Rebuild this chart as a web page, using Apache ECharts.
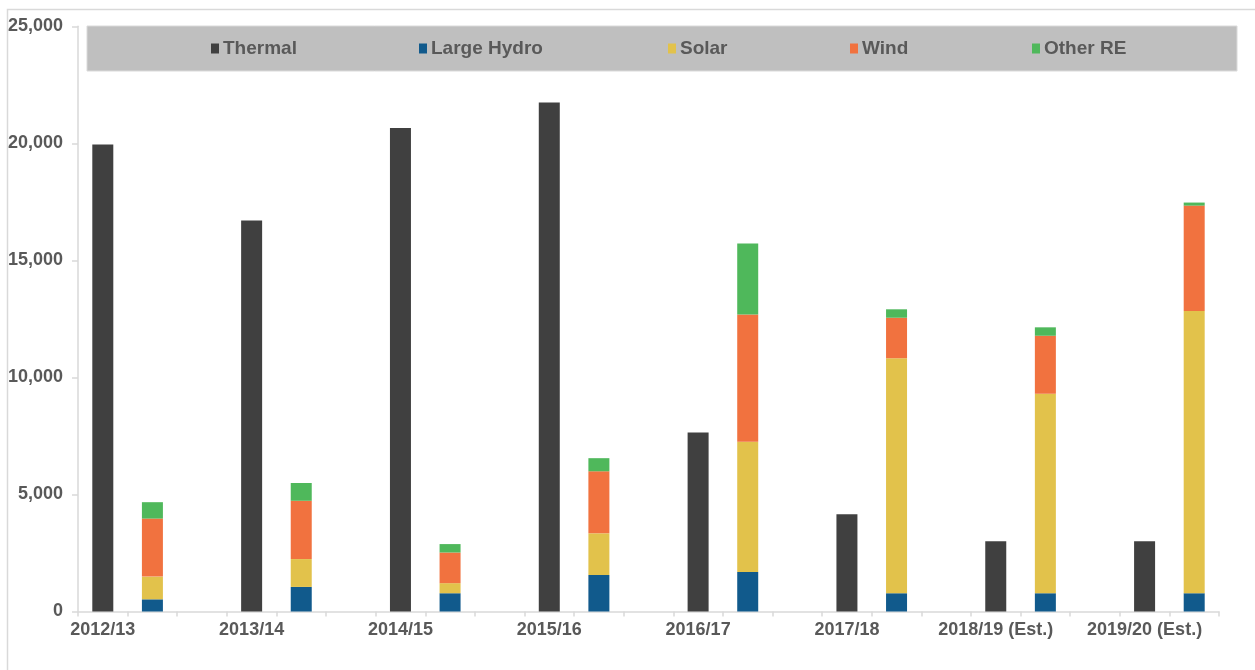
<!DOCTYPE html>
<html>
<head>
<meta charset="utf-8">
<script src="https://cdn.jsdelivr.net/npm/echarts@6/dist/echarts.min.js"></script>
<style>
  html, body { margin: 0; padding: 0; background: #fff; }
  #chart { width: 1255px; height: 670px; }
</style>
</head>
<body>
<div id="chart"></div>
<script>
// One value per year; each year takes three slots on the axis:
// thermal bar, renewables stack, then an empty gap.
const years = ['2012/13', '2013/14', '2014/15', '2015/16', '2016/17', '2017/18', '2018/19 (Est.)', '2019/20 (Est.)'];
const thermal = [19950, 16700, 20650, 21750, 7650, 4150, 3000, 3000];
const largeHydro = [520, 1050, 780, 1560, 1690, 780, 780, 780];
const solar = [970, 1190, 430, 1780, 5560, 10040, 8520, 12060];
const wind = [2480, 2490, 1310, 2650, 5440, 1730, 2480, 4500];
const otherRE = [700, 760, 360, 560, 3030, 360, 360, 130];
const yTicks = [0, 5000, 10000, 15000, 20000, 25000];

const SLOTS = years.length * 3 - 1; // the last gap is not drawn
const FONT = "'Liberation Sans', Arial, sans-serif";
const GREY = '#595959';

function slotLabels() {
  return Array.from({ length: SLOTS }, (_, i) => (i % 3 === 0 ? years[i / 3] : ''));
}
// puts year values at slot 3*i + offset, '-' elsewhere
function toSlots(values, offset) {
  const out = Array.from({ length: SLOTS }, () => '-');
  values.forEach((v, i) => { out[i * 3 + offset] = v; });
  return out;
}

const seriesDefs = [
  { name: 'Thermal', color: '#404040', values: thermal, offset: 0 },
  { name: 'Large Hydro', color: '#115A8C', values: largeHydro, offset: 1 },
  { name: 'Solar', color: '#E2C24B', values: solar, offset: 1 },
  { name: 'Wind', color: '#F1723F', values: wind, offset: 1 },
  { name: 'Other RE', color: '#4FB85B', values: otherRE, offset: 1 },
];
const legendLeft = [206, 414, 663, 845, 1027];

const legends = seriesDefs.map((s, i) => ({
  data: [s.name],
  left: legendLeft[i],
  top: 34,
  itemWidth: 8,
  itemHeight: 10,
  selectedMode: false,
  icon: 'rect',
  textStyle: { color: GREY, fontSize: 19, fontWeight: 'bold', fontFamily: FONT, padding: [0, 0, 0, -1] },
}));

const chart = echarts.init(document.getElementById('chart'), null, { renderer: 'canvas' });
chart.setOption({
  animation: false,
  backgroundColor: '#fff',
  textStyle: { fontFamily: FONT },
  graphic: [
    { type: 'rect', z: -10, silent: true,
      shape: { x: 7.5, y: 9.5, width: 1300, height: 700 },
      style: { fill: 'none', stroke: '#D9D9D9', lineWidth: 1.5 } },
    { type: 'rect', z: -5, silent: true,
      shape: { x: 87, y: 26, width: 1150, height: 45 },
      style: { fill: '#BFBFBF', stroke: '#DADADA', lineWidth: 1 } },
  ],
  legend: legends,
  grid: { left: 78, right: 36, top: 26.3, bottom: 58.5 },
  xAxis: {
    type: 'category',
    data: slotLabels(),
    axisLine: { lineStyle: { color: '#D9D9D9', width: 1.5 } },
    axisTick: { show: true, interval: 0, length: 5, lineStyle: { color: '#D9D9D9', width: 1.5 } },
    axisLabel: { interval: 0, margin: 10, color: GREY, fontSize: 18, fontWeight: 'bold', fontFamily: FONT },
  },
  yAxis: {
    type: 'value',
    min: yTicks[0],
    max: yTicks[yTicks.length - 1],
    interval: yTicks[1] - yTicks[0],
    splitLine: { show: false },
    axisLine: { show: true, lineStyle: { color: '#D9D9D9', width: 1.5 } },
    axisTick: { show: true, length: 6, lineStyle: { color: '#D9D9D9', width: 1.5 } },
    axisLabel: {
      margin: 15, color: GREY, fontSize: 18, fontWeight: 'bold', fontFamily: FONT,
      formatter: (v) => v.toLocaleString('en-US'),
    },
  },
  series: seriesDefs.map((s) => ({
    name: s.name,
    type: 'bar',
    stack: 'all',
    barWidth: 21,
    itemStyle: { color: s.color },
    emphasis: { disabled: true },
    data: toSlots(s.values, s.offset),
  })),
});
</script>
</body>
</html>
